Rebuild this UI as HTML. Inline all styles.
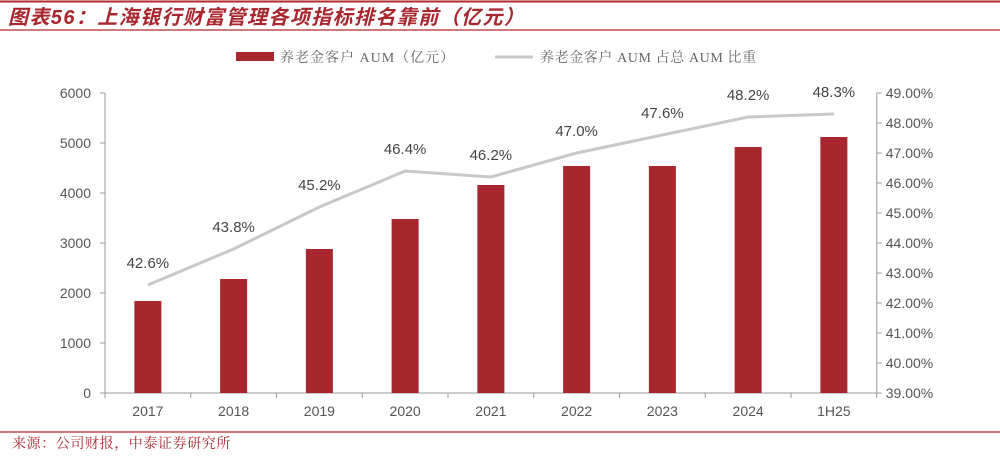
<!DOCTYPE html>
<html><head><meta charset="utf-8"><style>
body{margin:0;background:#fff;width:1000px;height:454px;overflow:hidden;font-family:"Liberation Sans","Noto Sans CJK SC",sans-serif}
</style></head><body>
<svg width="1000" height="454" xmlns="http://www.w3.org/2000/svg">
<line x1="0" y1="1.5" x2="1000" y2="1.5" stroke="#b22a2a" stroke-width="2"/>
<text x="8" y="24" font-size="20" font-weight="bold" font-style="italic" letter-spacing="1.4" fill="#a8262e" font-family="'Liberation Sans','Noto Sans CJK SC',sans-serif">图表56：上海银行财富管理各项指标排名靠前（亿元）</text>
<line x1="0" y1="30" x2="1000" y2="30" stroke="#b22a2a" stroke-width="1.2"/>
<g>
<rect x="236" y="52" width="38" height="9" fill="#a8262e"/>
<text x="280" y="62" font-size="14" letter-spacing="1" fill="#666" font-family="'Liberation Serif','Noto Serif CJK SC',serif">养老金客户 AUM（亿元）</text>
<line x1="495" y1="57" x2="533" y2="57" stroke="#c8c8c8" stroke-width="3"/>
<text x="540" y="62" font-size="14" letter-spacing="0.6" fill="#666" font-family="'Liberation Serif','Noto Serif CJK SC',serif">养老金客户 AUM 占总 AUM 比重</text>
</g>
<g id="plot"></g>
<line x1="0" y1="432" x2="1000" y2="432" stroke="#b22a2a" stroke-width="1.2"/>
<text x="12" y="448" font-size="14" letter-spacing="0.6" fill="#a8262e" font-family="'Liberation Serif','Noto Serif CJK SC',serif">来源：公司财报，中泰证券研究所</text>
</svg>
<script>
const categories=["2017","2018","2019","2020","2021","2022","2023","2024","1H25"];
const aumValues=[1840,2280,2880,3480,4160,4540,4540,4920,5120];
const shareValues=[42.6,43.8,45.2,46.4,46.2,47.0,47.6,48.2,48.3];
const leftTicks=[0,1000,2000,3000,4000,5000,6000];
const rightTicks=[39,40,41,42,43,44,45,46,47,48,49];
const NS="http://www.w3.org/2000/svg";
const g=document.getElementById('plot');
const X0=105,X1=876.75,Y0=393,Y1=93;
const bw=(X1-X0)/categories.length;
const xc=i=>X0+bw*(i+0.5);
const yL=v=>Y0-(v/6000)*(Y0-Y1);
const yR=v=>Y0-((v-39)/10)*(Y0-Y1);
function mk(t,a){const e=document.createElementNS(NS,t);for(const k in a)e.setAttribute(k,a[k]);g.appendChild(e);return e;}
let e;
e=mk('line',{x1:X0,y1:Y1,x2:X0,y2:Y0,stroke:'#999'});


e=mk('line',{x1:X1,y1:Y1,x2:X1,y2:Y0,stroke:'#999'});


e=mk('line',{x1:X0,y1:Y0,x2:X1,y2:Y0,stroke:'#999'});


leftTicks.forEach(v=>{
 mk('line',{x1:X0-5,y1:yL(v),x2:X0,y2:yL(v),stroke:'#999'});
 e=mk('text',{x:X0-14,y:yL(v)+5,'font-size':14,fill:'#555','text-anchor':'end'});e.textContent=v;
 
 
});
rightTicks.forEach(v=>{
 mk('line',{x1:X1,y1:yR(v),x2:X1+5,y2:yR(v),stroke:'#999'});
 e=mk('text',{x:X1+9,y:yR(v)+5,'font-size':14,fill:'#555'});e.textContent=v.toFixed(2)+'%';
 
 
});
for(let i=0;i<=categories.length;i++)mk('line',{x1:X0+bw*i,y1:Y0,x2:X0+bw*i,y2:Y0+5,stroke:'#999'});
categories.forEach((c,i)=>{
 e=mk('rect',{x:xc(i)-13.5,y:yL(aumValues[i]),width:27,height:Y0-yL(aumValues[i]),fill:'#a8262e'});
 
 
 e=mk('text',{x:xc(i),y:416,'font-size':14,fill:'#555','text-anchor':'middle'});e.textContent=c;
 
 
});
e=mk('polyline',{points:shareValues.map((v,i)=>xc(i)+','+yR(v)).join(' '),fill:'none',stroke:'#c8c8c8','stroke-width':3});


shareValues.forEach((v,i)=>{
 e=mk('text',{x:xc(i),y:yR(v)-17,'font-size':15,fill:'#444','text-anchor':'middle'});e.textContent=v.toFixed(1)+'%';
 
 
});
</script>
</body></html>
